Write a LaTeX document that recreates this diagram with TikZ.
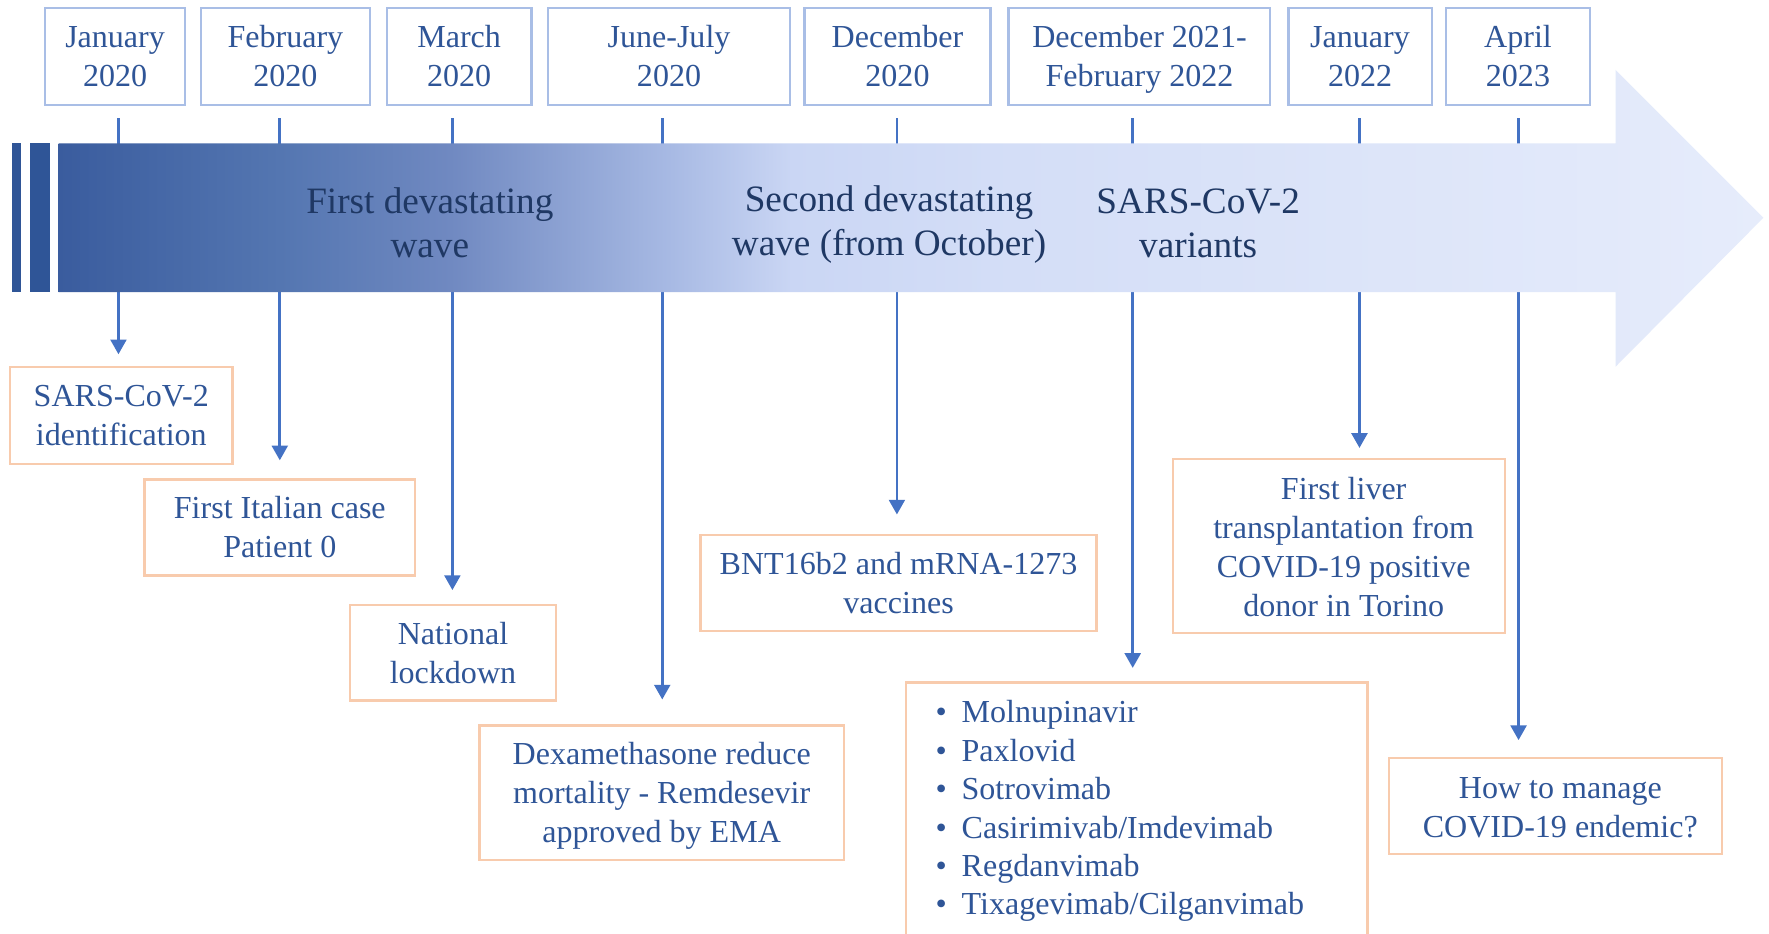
\documentclass[tikz,border=0pt]{standalone}
\usepackage{fontspec}
\setmainfont{Liberation Serif}
\usetikzlibrary{arrows.meta}
\definecolor{boxtext}{HTML}{2F5597}
\definecolor{wavetext}{HTML}{1F3864}
\definecolor{topborder}{HTML}{A9BEE6}
\definecolor{orangeborder}{HTML}{F8CBAD}
\definecolor{arrowblue}{HTML}{4472C4}
\definecolor{stripe}{HTML}{2F5597}
\definecolor{ga}{HTML}{3A5C9E}
\definecolor{gb}{HTML}{5476B1}
\definecolor{gc}{HTML}{7089C1}
\definecolor{gd}{HTML}{A8BAE4}
\definecolor{ge}{HTML}{CAD6F4}
\definecolor{gf}{HTML}{D4DEF7}
\definecolor{gg}{HTML}{E6ECFB}
\pgfdeclarehorizontalshading{barshade}{100bp}{color(0bp)=(ga); color(25bp)=(ga); color(31.5bp)=(gb); color(36.5bp)=(gc); color(43bp)=(gd); color(46.5bp)=(ge); color(53bp)=(gf); color(75bp)=(gg); color(100bp)=(gg)}
\newcommand\lst{\rule[-3.75pt]{0pt}{17.25pt}}
\begin{document}
\begin{tikzpicture}[x=0.5pt,y=-0.5pt,
  datebox/.style={draw=topborder,line width=1pt,fill=white,inner sep=0pt,minimum height=43pt,align=center,text=boxtext,font=\fontsize{14.2}{17.25}\selectfont},
  eventbox/.style={draw=orangeborder,line width=1pt,fill=white,inner sep=0pt,align=center,text=boxtext,font=\fontsize{14.2}{17.25}\selectfont},
  eventtext/.style={inner sep=0pt,align=center,text=boxtext,font=\fontsize{14.2}{17.25}\selectfont},
  wavelabel/.style={align=center,text=wavetext,inner sep=0pt,font=\fontsize{16.5}{19.5}\selectfont},
  conn/.style={draw=arrowblue,line width=1.2pt,-{Triangle[width=7pt,length=6.5pt]}}
]
\useasboundingbox (0,0) rectangle (1568,827);
\clip (0,0) rectangle (1568,827);
\fill[white] (0,0) rectangle (1568,827);

% date boxes
\node[datebox,minimum width=62pt] (d1) at (102,50) {\lst January\\\lst 2020};
\node[datebox,minimum width=75pt] (d2) at (253,50) {\lst February\\\lst 2020};
\node[datebox,minimum width=64pt] (d3) at (407,50) {\lst March\\\lst 2020};
\node[datebox,minimum width=107pt] (d4) at (593,50) {\lst June-July\\\lst 2020};
\node[datebox,minimum width=82.5pt] (d5) at (795.5,50) {\lst December\\\lst 2020};
\node[datebox,minimum width=116pt] (d6) at (1010,50) {\lst December 2021-\\\lst February 2022};
\node[datebox,minimum width=63.5pt] (d7) at (1205.5,50) {\lst January\\\lst 2022};
\node[datebox,minimum width=63.5pt] (d8) at (1345.5,50) {\lst April\\\lst 2023};

% event boxes
\node[eventbox,minimum width=98.5pt,minimum height=43pt] (b1) at (107.5,368) {\lst SARS-CoV-2\\\lst identification};
\node[eventbox,minimum width=120pt,minimum height=42.5pt] (b2) at (248,467.5) {\lst First Italian case\\\lst Patient 0};
\node[eventbox,minimum width=91.5pt,minimum height=42.5pt] (b3) at (401.5,578.5) {\lst National\\\lst lockdown};
\node[eventbox,minimum width=161.5pt,minimum height=59.5pt] (b4) at (586.5,702.5) {\lst Dexamethasone reduce\\\lst mortality - Remdesevir\\\lst approved by EMA};
\node[eventbox,minimum width=175.5pt,minimum height=42.5pt] (b5) at (796.5,516.5) {\lst BNT16b2 and mRNA-1273\\\lst vaccines};
\node[eventbox,minimum width=204.5pt,minimum height=120pt] (b6) at (1007.5,725) {};
\node[align=left,anchor=west,inner sep=0pt,text=boxtext,font=\fontsize{14.2}{17}\selectfont] (list) at (829,719) {%
\makebox[11.5pt][l]{•}Molnupinavir\\
\makebox[11.5pt][l]{•}Paxlovid\\
\makebox[11.5pt][l]{•}Sotrovimab\\
\makebox[11.5pt][l]{•}Casirimivab/Imdevimab\\
\makebox[11.5pt][l]{•}Regdanvimab\\
\makebox[11.5pt][l]{•}Tixagevimab/Cilganvimab};
\node[eventbox,minimum width=147pt,minimum height=77pt] (b7) at (1187,484) {};
\node[eventtext] (b7t) at (1191,485) {\lst First liver\\\lst transplantation from\\\lst COVID-19 positive\\\lst donor in Torino};
\node[eventbox,minimum width=147.5pt,minimum height=42.5pt] (b8) at (1378.5,714.5) {};
\node[eventtext] (b8t) at (1383,715) {\lst How to manage\\\lst COVID-19 endemic?};

% tick start points
\coordinate (t1) at (105,105);
\coordinate (t2) at (248,105);
\coordinate (t3) at (401,105);
\coordinate (t4) at (587,105);
\coordinate (t5) at (795,105);
\coordinate (t6) at (1004,105);
\coordinate (t7) at (1205,105);
\coordinate (t8) at (1346,105);

% connectors
\draw[conn,shorten >=5pt] (t1) -- (t1 |- b1.north);
\draw[conn,shorten >=8pt] (t2) -- (t2 |- b2.north);
\draw[conn,shorten >=6pt] (t3) -- (t3 |- b3.north);
\draw[conn,shorten >=11pt] (t4) -- (t4 |- b4.north);
\draw[conn,shorten >=8.5pt] (t5) -- (t5 |- b5.north);
\draw[conn,shorten >=6pt] (t6) -- (t6 |- b6.north);
\draw[conn,shorten >=4.5pt] (t7) -- (t7 |- b7.north);
\draw[conn,shorten >=7.5pt] (t8) -- (t8 |- b8.north);

% timeline bar
\fill[stripe] (11,127) rectangle (19,259);
\fill[stripe] (27,127) rectangle (44,259);
\shade[shading=barshade] (52,127) -- (1432,127) -- (1432,62) -- (1563,193) -- (1432,325) -- (1432,259) -- (52,259) -- cycle;

\node[wavelabel] (w1) at (381,197) {First devastating\\wave};
\node[wavelabel] (w2) at (788,199) {Second devastating\\wave (from October)};
\node[wavelabel] (w3) at (1062,198) {SARS-CoV-2\\variants};
\end{tikzpicture}
\end{document}
